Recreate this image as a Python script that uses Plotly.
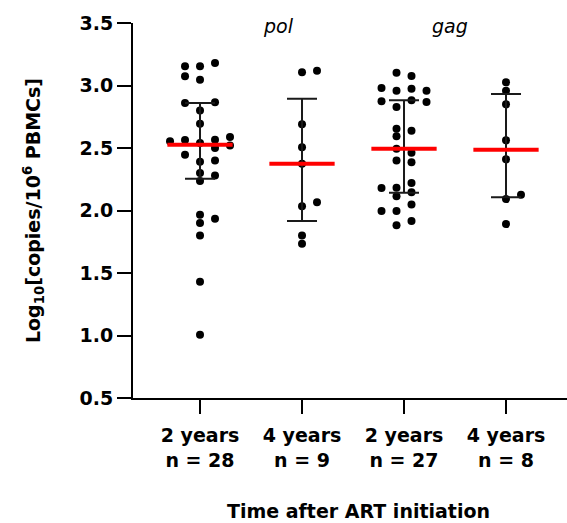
import plotly.graph_objects as go

categories = ["2 years<br>n = 28", "4 years<br>n = 9", "2 years<br>n = 27", "4 years<br>n = 8"]
gene_labels = ["pol", "gag"]

g1_vals = [3.18, 3.154, 3.154, 3.074, 3.047, 2.86, 2.866, 2.80, 2.695, 2.554, 2.565, 2.54, 2.567, 2.588,
           2.52, 2.50, 2.447, 2.40, 2.39, 2.30, 2.28, 2.236, 1.967, 1.935, 1.90, 1.80, 1.43, 1.007]
g1_slot = [1, -1, 0, -1, 0, -1, 1, 0, 0, -2, -1, 0, 1, 2,
           2, 1, -1, 1, 0, 0, 1, 0, 0, 1, 0, 0, 0, 0]
g2_vals = [3.106, 3.119, 2.69, 2.506, 2.375, 2.034, 2.066, 1.80, 1.735]
g2_slot = [0, 1, 0, 0, 0, 0, 1, 0, 0]
g3_vals = [3.103, 3.076, 2.98, 2.958, 2.975, 2.958, 2.874, 2.882, 2.868, 2.828, 2.655, 2.639, 2.594,
           2.495, 2.463, 2.40, 2.386, 2.22, 2.18, 2.183, 2.146, 2.114, 2.047, 1.996, 1.996, 1.916, 1.882]
g3_slot = [-0.5, 0.5, -1.5, -0.5, 0.5, 1.5, -1.5, 0.5, 1.5, -0.5, -0.5, 0.5, -0.5,
           -0.5, 0.5, -0.5, 0.5, 0.5, -1.5, -0.5, 0.5, -0.5, 0.5, -1.5, -0.5, 0.5, -0.5]
g4_vals = [3.026, 2.958, 2.85, 2.562, 2.41, 2.127, 2.092, 1.892]
g4_slot = [0, 0, 0, 0, 0, 1, 0, 0]

centers = [2.527, 2.375, 2.495, 2.487]
upper = [2.86, 2.895, 2.882, 2.932]
lower = [2.255, 1.916, 2.143, 2.106]

groups = [(g1_vals, g1_slot), (g2_vals, g2_slot), (g3_vals, g3_slot), (g4_vals, g4_slot)]
SLOT = 0.147
HALF = 0.32
FONT = "DejaVu Sans"

fig = go.Figure()

for i, (vals, slots) in enumerate(groups):
    fig.add_trace(go.Scatter(
        x=[i + s * SLOT for s in slots], y=vals, mode="markers",
        marker=dict(color="black", size=8), showlegend=False, hoverinfo="y"))

# error bars
fig.add_trace(go.Scatter(
    x=list(range(4)), y=centers, mode="markers",
    marker=dict(size=1, color="rgba(0,0,0,0)"),
    error_y=dict(type="data", symmetric=False,
                 array=[u - c for u, c in zip(upper, centers)],
                 arrayminus=[c - l for c, l in zip(centers, lower)],
                 color="#1a1a1a", thickness=2, width=15),
    showlegend=False, hoverinfo="skip"))

# mean lines
for i, c in enumerate(centers):
    fig.add_trace(go.Scatter(
        x=[i - HALF, i + HALF], y=[c, c], mode="lines",
        line=dict(color="#ff0000", width=4), showlegend=False, hoverinfo="skip"))

fig.add_annotation(x=0.765, y=3.48, xref="x", yref="y", text="<i>pol</i>", showarrow=False,
                   font=dict(family=FONT, size=19, color="black"))
fig.add_annotation(x=2.45, y=3.48, xref="x", yref="y", text="<i>gag</i>", showarrow=False,
                   font=dict(family=FONT, size=19, color="black"))

fig.add_annotation(x=1.55, y=-0.302, xref="x", yref="paper", yanchor="middle",
                   text="Time after ART initiation", showarrow=False,
                   font=dict(family=FONT, size=19, color="black", weight="bold"))

fig.update_layout(
    width=567, height=523,
    margin=dict(l=133, r=0, t=23, b=125),
    plot_bgcolor="white", paper_bgcolor="white",
    font=dict(family=FONT, color="black"),
    xaxis=dict(range=[-0.657, 3.598], tickvals=[0, 1, 2, 3], ticktext=categories,
               showgrid=False, zeroline=False, showline=True, linecolor="black", linewidth=2,
               ticks="outside", ticklen=14, tickwidth=2, tickcolor="black", ticklabelstandoff=5,
               tickfont=dict(family=FONT, size=19, color="black", weight="bold")),
    yaxis=dict(range=[0.5, 3.5], tickvals=[0.5, 1.0, 1.5, 2.0, 2.5, 3.0, 3.5], tickformat=".1f",
               showgrid=False, zeroline=False, showline=True, linecolor="black", linewidth=2,
               ticks="outside", ticklen=14, tickwidth=2, tickcolor="black",
               tickfont=dict(family=FONT, size=19, color="black", weight="bold"),
               title=dict(text="Log<sub>10</sub>[copies/10<sup>6</sup> PBMCs]", standoff=34,
                          font=dict(family=FONT, size=19, color="black", weight="bold"))),
)

fig.write_html("out.html")
